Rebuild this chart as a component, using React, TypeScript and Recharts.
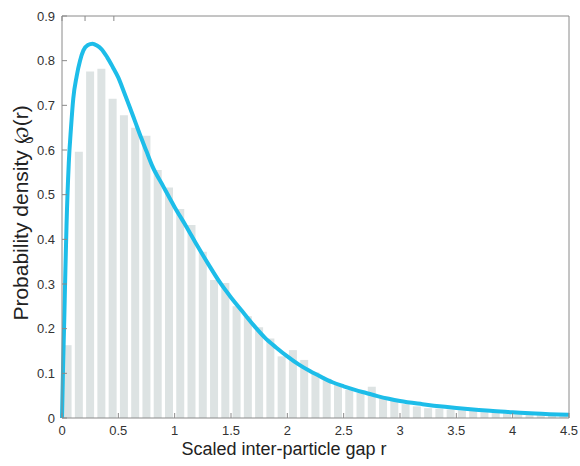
import React from "react";
import {
  ComposedChart,
  Bar,
  Line,
  XAxis,
  YAxis,
} from "recharts";

// histogram, bin width 0.1 from 0 to 4.5
const binLabels = Array.from({ length: 45 }, (_, i) => (i / 10).toFixed(1));
const binHeights = [
  0.163, 0.596, 0.776, 0.782, 0.715, 0.678, 0.65, 0.632, 0.555, 0.516,
  0.468, 0.432, 0.372, 0.309, 0.302, 0.25, 0.228, 0.203, 0.178, 0.138,
  0.152, 0.13, 0.102, 0.088, 0.076, 0.063, 0.056, 0.07, 0.044, 0.039,
  0.031, 0.026, 0.022, 0.021, 0.019, 0.017, 0.016, 0.013, 0.012, 0.011,
  0.01, 0.008, 0.008, 0.007, 0.006,
];

// fitted density curve
const curveR = [
  0, 0.01, 0.02, 0.03, 0.04, 0.06, 0.08, 0.1, 0.13, 0.16, 0.19, 0.23, 0.27,
  0.31, 0.35, 0.4, 0.45, 0.5, 0.55, 0.6, 0.65, 0.7, 0.75, 0.8, 0.9, 1.0,
  1.1, 1.2, 1.3, 1.4, 1.5, 1.6, 1.7, 1.8, 1.9, 2.0, 2.1, 2.2, 2.3, 2.4,
  2.5, 2.6, 2.7, 2.8, 2.9, 3.0, 3.2, 3.4, 3.6, 3.8, 4.0, 4.2, 4.5,
];
const curveP = [
  0, 0.12, 0.22, 0.33, 0.43, 0.57, 0.65, 0.715, 0.765, 0.8, 0.823, 0.835, 0.838,
  0.834, 0.826, 0.808, 0.786, 0.762, 0.73, 0.697, 0.663, 0.629, 0.597, 0.565,
  0.518, 0.472, 0.43, 0.386, 0.344, 0.304, 0.27, 0.239, 0.208, 0.18,
  0.158, 0.138, 0.12, 0.105, 0.092, 0.08, 0.071, 0.063, 0.056, 0.049, 0.043,
  0.038, 0.031, 0.025, 0.02, 0.016, 0.013, 0.01, 0.007,
];

const xTicks = [0, 0.5, 1, 1.5, 2, 2.5, 3, 3.5, 4, 4.5];
const yTicks = [0, 0.1, 0.2, 0.3, 0.4, 0.5, 0.6, 0.7, 0.8, 0.9];

const bins = binLabels.map((b, i) => ({ bin: b, p: binHeights[i] }));
const curve = curveR.map((r, i) => ({ r, p: curveP[i] }));

const axisColor = "#8a8a8a";
const font = "Liberation Sans, Arial, sans-serif";

// MATLAB-style inward ticks, drawn with the label
const BottomTick = (props: any) => {
  const { x, y, payload } = props;
  return (
    <g>
      <line x1={x} y1={y} x2={x} y2={y - 5} stroke={axisColor} />
      <text x={x} y={y + 17} textAnchor="middle" fontSize={13} fill="#333" fontFamily={font}>
        {String(payload.value)}
      </text>
    </g>
  );
};
const LeftTick = (props: any) => {
  const { x, y, payload } = props;
  return (
    <g>
      <line x1={x} y1={y} x2={x + 5} y2={y} stroke={axisColor} />
      <text x={x - 7} y={y + 4.5} textAnchor="end" fontSize={13} fill="#333" fontFamily={font}>
        {String(payload.value)}
      </text>
    </g>
  );
};
const TopTick = (props: any) => (
  <line x1={props.x} y1={props.y} x2={props.x} y2={props.y + 5} stroke={axisColor} />
);
const RightTick = (props: any) => (
  <line x1={props.x} y1={props.y} x2={props.x - 5} y2={props.y} stroke={axisColor} />
);

export default function App() {
  return (
    <div style={{ position: "absolute", left: 0, top: 0, background: "#fff" }}>
      <ComposedChart
        width={580}
        height={466}
        data={bins}
        margin={{ top: 15, right: 10, bottom: 0, left: 12 }}
        barCategoryGap="14%"
      >
        <XAxis
          xAxisId="r"
          dataKey="r"
          type="number"
          domain={[0, 4.5]}
          ticks={xTicks}
          height={48}
          stroke={axisColor}
          tickLine={false}
          tickSize={0}
          tickMargin={0}
          tick={<BottomTick />}
          label={{
            content: () => (
              <text x={284} y={455} textAnchor="middle" fontSize={18} fill="#222" fontFamily={font}>
                Scaled inter-particle gap r
              </text>
            ),
          }}
        />
        <XAxis xAxisId="bins" dataKey="bin" type="category" height={0} hide />
        <XAxis
          xAxisId="top"
          orientation="top"
          type="number"
          domain={[0, 4.5]}
          ticks={xTicks}
          height={1}
          stroke={axisColor}
          tickLine={false}
          tickSize={0}
          tickMargin={0}
          tick={<TopTick />}
        />
        <YAxis
          type="number"
          domain={[0, 0.9]}
          ticks={yTicks}
          width={50}
          stroke={axisColor}
          tickLine={false}
          tickSize={0}
          tickMargin={0}
          tick={<LeftTick />}
          label={{
            content: () => (
              <text
                x={28}
                y={213}
                transform="rotate(-90, 28, 213)"
                textAnchor="middle"
                fontSize={21}
                fill="#222"
                fontFamily={font}
              >
                Probability density ℘(r)
              </text>
            ),
          }}
        />
        <YAxis
          yAxisId="right"
          orientation="right"
          type="number"
          domain={[0, 0.9]}
          ticks={yTicks}
          width={1}
          stroke={axisColor}
          tickLine={false}
          tickSize={0}
          tickMargin={0}
          tick={<RightTick />}
        />
        <Bar xAxisId="bins" dataKey="p" fill="#dde3e3" isAnimationActive={false} />
        <Line
          xAxisId="r"
          data={curve}
          dataKey="p"
          type="monotone"
          stroke="#1dbde9"
          strokeWidth={4}
          dot={false}
          activeDot={false}
          isAnimationActive={false}
        />
      </ComposedChart>
    </div>
  );
}
